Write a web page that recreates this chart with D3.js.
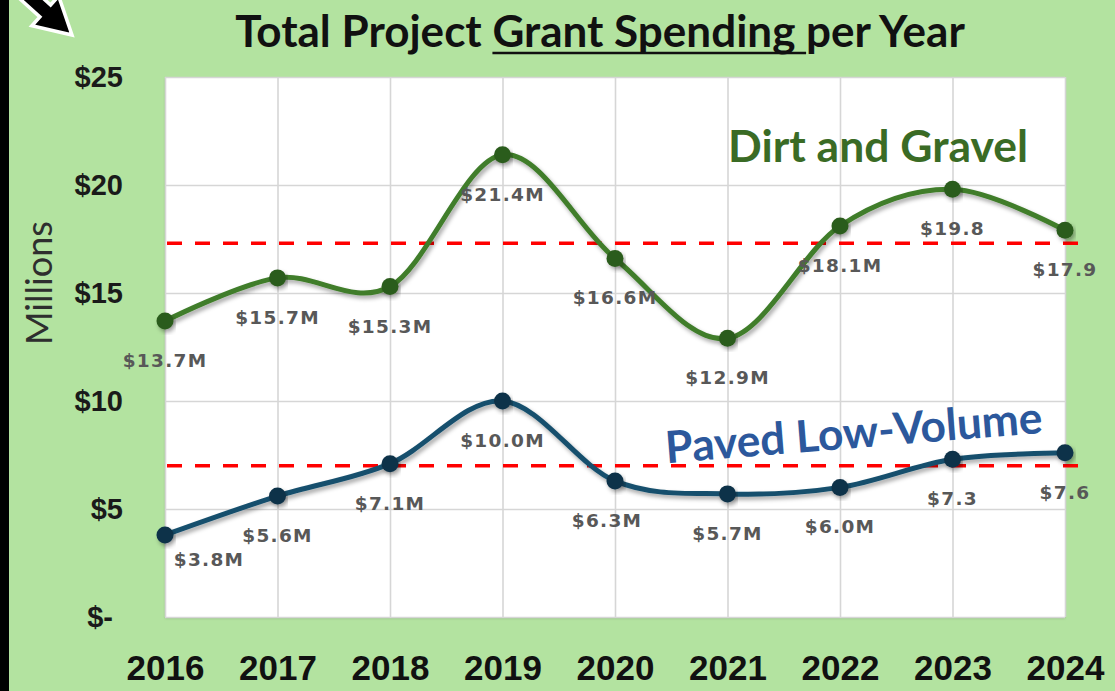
<!DOCTYPE html>
<html>
<head>
<meta charset="utf-8">
<script src="https://cdn.jsdelivr.net/npm/d3@7"></script>
<style>
  html, body { margin: 0; padding: 0; background: #b3e3a0; }
  svg { display: block; }
</style>
</head>
<body>
<svg id="chart" width="1115" height="691"></svg>
<script>
// ---- data ----
const years = [2016, 2017, 2018, 2019, 2020, 2021, 2022, 2023, 2024];
const dirtGravel = [13.7, 15.7, 15.3, 21.4, 16.6, 12.9, 18.1, 19.8, 17.9];
const pavedLowVolume = [3.8, 5.6, 7.1, 10.0, 6.3, 5.7, 6.0, 7.3, 7.6];
const dirtLabels = ["$13.7M", "$15.7M", "$15.3M", "$21.4M", "$16.6M", "$12.9M", "$18.1M", "$19.8", "$17.9"];
const pavedLabels = ["$3.8M", "$5.6M", "$7.1M", "$10.0M", "$6.3M", "$5.7M", "$6.0M", "$7.3", "$7.6"];
const yTicks = [0, 5, 10, 15, 20, 25];
const yTickLabels = ["$-", "$5", "$10", "$15", "$20", "$25"];
const averageLines = [17.3, 7.0];
const seriesNames = ["Dirt and Gravel", "Paved Low-Volume"];
const titleParts = ["Total Project ", "Grant Spending", " per Year"];
const yAxisTitle = "Millions";

// ---- layout ----
const W = 1115, H = 691;
const plot = { left: 165, right: 1065, top: 77, bottom: 617 };
const svg = d3.select("#chart");

const x = d3.scalePoint().domain(years).range([plot.left, plot.right]);
const y = d3.scaleLinear().domain([0, 25]).range([plot.bottom, plot.top]);

// background
svg.append("rect").attr("width", W).attr("height", H).attr("fill", "#b3e3a0");
svg.append("rect").attr("x", 0).attr("y", 0).attr("width", 9).attr("height", H).attr("fill", "#000");

// arrow top-left (pointing down-right)
svg.append("path")
  .attr("d", "M0,0 L-36,-20 L-36,-8 L-110,-8 L-110,8 L-36,8 L-36,20 Z")
  .attr("transform", "translate(72,35) rotate(42)")
  .attr("fill", "#000").attr("stroke", "#fff").attr("stroke-width", 3.5).attr("stroke-linejoin", "miter");

// defs: shadow
const defs = svg.append("defs");
const f = defs.append("filter").attr("id", "shadow").attr("x", "-10%").attr("y", "-20%").attr("width", "120%").attr("height", "150%");
f.append("feDropShadow").attr("dx", 2).attr("dy", 3).attr("stdDeviation", 2.2).attr("flood-color", "#000").attr("flood-opacity", 0.35);
const fb = defs.append("filter").attr("id", "plotshadow").attr("x", "-2%").attr("y", "-2%").attr("width", "104%").attr("height", "104%");
fb.append("feDropShadow").attr("dx", 0).attr("dy", 1.5).attr("stdDeviation", 1).attr("flood-color", "#000").attr("flood-opacity", 0.18);

// plot area
svg.append("rect")
  .attr("x", plot.left).attr("y", plot.top)
  .attr("width", plot.right - plot.left).attr("height", plot.bottom - plot.top)
  .attr("fill", "#fff").attr("filter", "url(#plotshadow)");

// gridlines
const gy = svg.append("g").attr("transform", `translate(${plot.left},0)`)
  .call(d3.axisLeft(y).tickValues(yTicks).tickSize(-(plot.right - plot.left)).tickFormat(""));
gy.select(".domain").remove();
gy.selectAll("line").attr("stroke", "#d6d6d6").attr("stroke-width", 1.6);
const gx = svg.append("g").attr("transform", `translate(0,${plot.bottom})`)
  .call(d3.axisBottom(x).tickSize(-(plot.bottom - plot.top)).tickFormat(""));
gx.select(".domain").remove();
gx.selectAll("line").attr("stroke", "#d6d6d6").attr("stroke-width", 1.6);

// y axis labels
const ya = svg.append("g").attr("transform", `translate(${plot.left},0)`)
  .call(d3.axisLeft(y).tickValues(yTicks).tickSize(0).tickPadding(42).tickFormat((d, i) => yTickLabels[i]));
ya.select(".domain").remove();
ya.selectAll("text")
  .attr("font-family", "Liberation Sans, Arial, sans-serif").attr("font-weight", "bold")
  .attr("font-size", 29).attr("fill", "#1a1a1a")
  .attr("dx", d => d === 0 ? -10 : 0);

// x axis labels
const xa = svg.append("g").attr("transform", `translate(0,${plot.bottom})`)
  .call(d3.axisBottom(x).tickSize(0).tickPadding(38));
xa.select(".domain").remove();
xa.selectAll("text")
  .attr("font-family", "Liberation Sans, Arial, sans-serif").attr("font-weight", "bold")
  .attr("font-size", 35).attr("fill", "#111");

// y axis title
const yt = svg.append("text")
  .attr("transform", "translate(52,283) rotate(-90)")
  .attr("text-anchor", "middle")
  .attr("font-family", "Lato, sans-serif").attr("font-size", 33).attr("fill", "#2e2e2e")
  .text(yAxisTitle);
yt.attr("font-size", 33 * 124 / yt.node().getComputedTextLength());

// title
const title = svg.append("text")
  .attr("x", 600).attr("y", 47).attr("text-anchor", "middle")
  .attr("font-family", "Lato, sans-serif").attr("font-weight", "bold")
  .attr("font-size", 38).attr("fill", "#111");
title.selectAll("tspan").data(titleParts).enter().append("tspan").text(d => d);
(function fitTitle() {
  const target = 730;
  const w = title.node().getComputedTextLength();
  const fs = 38 * target / w;
  title.attr("font-size", fs);
  const node = title.node();
  const start = node.getStartPositionOfChar(titleParts[0].length);
  const len = node.getSubStringLength(titleParts[0].length, titleParts[1].length + 1);
  svg.append("line")
    .attr("x1", start.x).attr("x2", start.x + len)
    .attr("y1", 53).attr("y2", 53)
    .attr("stroke", "#111").attr("stroke-width", 2.5);
})();

// average lines
svg.selectAll(".avg").data(averageLines).enter().append("line")
  .attr("class", "avg")
  .attr("x1", plot.left + 2).attr("x2", 1080)
  .attr("y1", d => y(d)).attr("y2", d => y(d))
  .attr("stroke", "#ff0000").attr("stroke-width", 3.5).attr("stroke-dasharray", "15,13");

// series
const line = d3.line().x((d, i) => x(years[i])).y(d => y(d)).curve(d3.curveCardinal.tension(0));
const series = [
  { values: dirtGravel, labels: dirtLabels, stroke: "#3f7d2a", marker: "#2c5c1d" },
  { values: pavedLowVolume, labels: pavedLabels, stroke: "#17506d", marker: "#0f3248" }
];
series.forEach(s => {
  const g = svg.append("g");
  g.append("path").datum(s.values).attr("d", line)
    .attr("fill", "none").attr("stroke", s.stroke).attr("stroke-width", 5)
    .attr("stroke-linecap", "round").attr("filter", "url(#shadow)");
  g.selectAll("circle").data(s.values).enter().append("circle")
    .attr("cx", (d, i) => x(years[i])).attr("cy", d => y(d)).attr("r", 8.5)
    .attr("fill", s.marker).attr("filter", "url(#shadow)");
});

// data labels (below points)
const labelShift = { "$3.8M": [44, -15], "$6.3M": [-8, 0] };
series.forEach(s => {
  svg.append("g").selectAll("text").data(s.values).enter().append("text")
    .attr("x", (d, i) => x(years[i]) + ((labelShift[s.labels[i]] || [0, 0])[0]))
    .attr("y", (d, i) => y(d) + 46 + ((labelShift[s.labels[i]] || [0, 0])[1]))
    .attr("text-anchor", "middle")
    .attr("font-family", "DejaVu Sans, sans-serif").attr("font-weight", "bold")
    .attr("font-size", 18.5).attr("letter-spacing", 1.3).attr("fill", "#585858")
    .text((d, i) => s.labels[i]);
});

// series name labels
const dg = svg.append("text")
  .attr("x", 878).attr("y", 162).attr("text-anchor", "middle")
  .attr("font-family", "Lato, sans-serif").attr("font-weight", "bold")
  .attr("font-size", 40).attr("fill", "#3a6b25")
  .text(seriesNames[0]);
dg.attr("font-size", 40 * 300 / dg.node().getComputedTextLength());

const pv = svg.append("text")
  .attr("transform", "translate(855,448) rotate(-4.6)")
  .attr("text-anchor", "middle")
  .attr("font-family", "Lato, sans-serif").attr("font-weight", "bold")
  .attr("font-size", 36).attr("fill", "#2c589c")
  .text(seriesNames[1]);
pv.attr("font-size", 36 * 378 / pv.node().getComputedTextLength());
</script>
</body>
</html>
